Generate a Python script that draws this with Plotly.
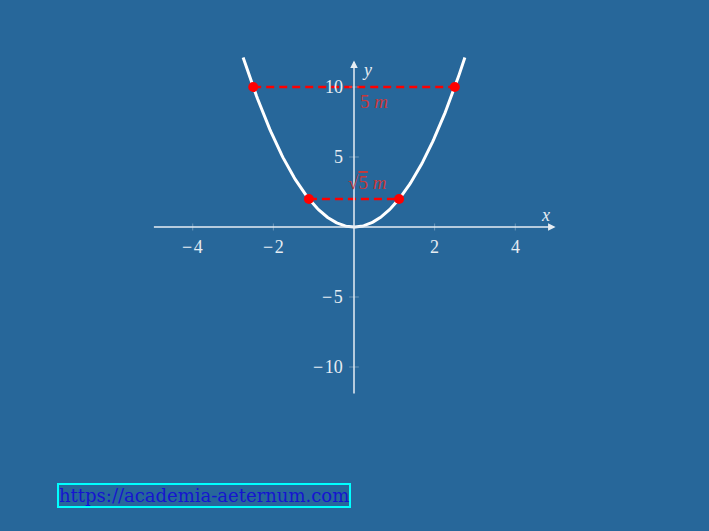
import numpy as np
import plotly.graph_objects as go

# parabola y = a x^2, cross-sections of width 5 m and sqrt(5) m
a = 1.6
x_curve = np.linspace(-2.75, 2.75, 201)
y_curve = a * x_curve ** 2

widths = [5.0, np.sqrt(5)]
levels = [10.0, 2.0]
width_labels = ["5 <i>m</i>", "√<span style='text-decoration:overline'>5</span> <i>m</i>"]
label_pos = [(0.5, 9.0), (0.31, 3.15)]

x_ticks = [-4, -2, 2, 4]
y_ticks = [-10, -5, 5, 10]

bg = "#27679a"
ax_col = "#e6edf3"
red = "#ff0000"
lab_red = "#c8383a"
font = "Liberation Serif"


def tick_text(t):
    return str(t).replace("-", "−\u200a")


fig = go.Figure()

# parabola
fig.add_trace(go.Scatter(x=x_curve, y=y_curve, mode="lines",
                         line=dict(color="white", width=3), hoverinfo="skip"))

# dashed chords + end points
for w, lv in zip(widths, levels):
    fig.add_trace(go.Scatter(x=[-w / 2, w / 2], y=[lv, lv], mode="lines",
                             line=dict(color=red, width=2.5, dash="8px,5px")))
    fig.add_trace(go.Scatter(x=[-w / 2, w / 2], y=[lv, lv], mode="markers",
                             marker=dict(color=red, size=10)))

# tick marks
for t in x_ticks:
    fig.add_shape(type="line", x0=t, x1=t, y0=-0.25, y1=0.25,
                  line=dict(color="rgba(230,237,243,0.35)", width=1))
for t in y_ticks:
    fig.add_shape(type="line", x0=-0.12, x1=0.12, y0=t, y1=t,
                  line=dict(color="rgba(230,237,243,0.35)", width=1))

# axes with arrows
fig.add_annotation(x=5.0, y=0, ax=-5.0, ay=0, xref="x", yref="y", axref="x", ayref="y",
                   showarrow=True, arrowhead=2, arrowsize=1, arrowwidth=1.5,
                   arrowcolor=ax_col, text="")
fig.add_annotation(x=0, y=11.9, ax=0, ay=-12.0, xref="x", yref="y", axref="x", ayref="y",
                   showarrow=True, arrowhead=2, arrowsize=1, arrowwidth=1.5,
                   arrowcolor=ax_col, text="")

# tick labels
for t in x_ticks:
    fig.add_annotation(x=t, y=-0.55, text=tick_text(t), showarrow=False,
                       yanchor="top", font=dict(family=font, size=18, color=ax_col))
for t in y_ticks:
    fig.add_annotation(x=-0.22, y=t, text=tick_text(t), showarrow=False,
                       xanchor="right", font=dict(family=font, size=18, color=ax_col))

fig.add_annotation(x=4.75, y=0.85, text="<i>x</i>", showarrow=False,
                   font=dict(family=font, size=18, color=ax_col))
fig.add_annotation(x=0.32, y=11.2, text="<i>y</i>", showarrow=False,
                   font=dict(family=font, size=18, color=ax_col))

# width labels
for txt, (lx, ly) in zip(width_labels, label_pos):
    fig.add_annotation(x=lx, y=ly, text=txt, showarrow=False,
                       font=dict(family=font, size=19, color=lab_red))

# url box
fig.add_annotation(xref="paper", yref="paper", x=-0.085, y=-0.193,
                   xanchor="left", yanchor="middle", showarrow=False,
                   text="https://academia-aeternum.com",
                   font=dict(family="DejaVu Serif", size=18, color="#1515d0"),
                   bordercolor="#00ffff", borderwidth=2, borderpad=0)

fig.update_layout(
    width=709, height=531,
    paper_bgcolor=bg, plot_bgcolor=bg,
    showlegend=False,
    margin=dict(l=100, r=101, t=45, b=108),
    xaxis=dict(range=[-6.3, 6.3], visible=False, fixedrange=True),
    yaxis=dict(range=[-14, 13], visible=False, fixedrange=True),
)

fig.write_html("out.html", config={"displayModeBar": False},
               post_script="document.body.style.margin='0';"
                           "document.body.style.background='" + bg + "';")
